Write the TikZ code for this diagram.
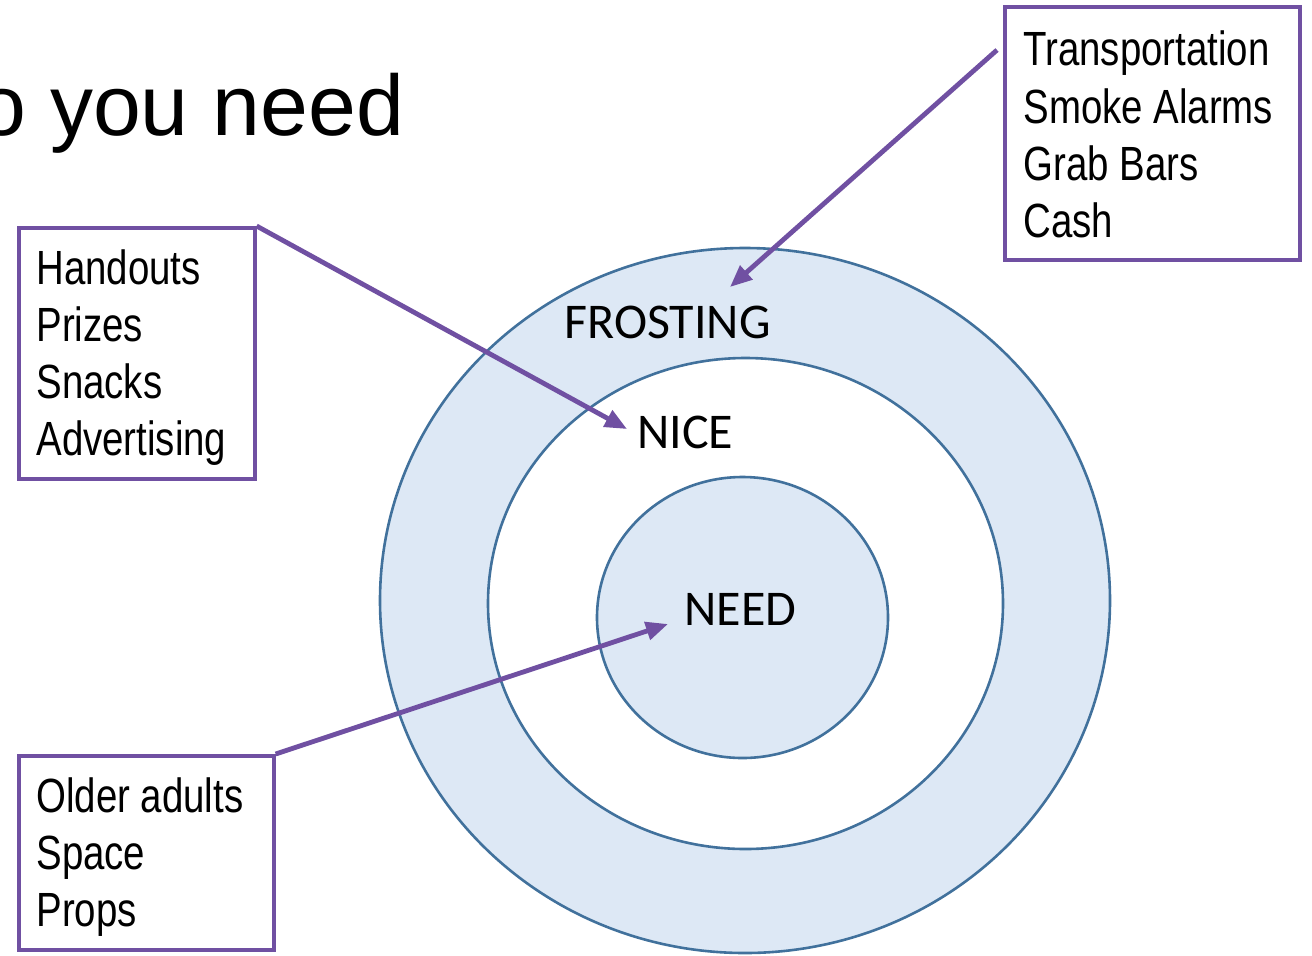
\documentclass[tikz,border=0pt]{standalone}
\usepackage{fontspec}
\setmainfont{Liberation Sans}
\newfontfamily\narrowfont[FakeStretch=0.8]{Liberation Sans}
\newfontfamily\calfont{Carlito}
\usetikzlibrary{arrows.meta,calc}
\definecolor{ringfill}{RGB}{221,232,245}
\definecolor{ringline}{RGB}{65,113,156}
\definecolor{arrowpurple}{RGB}{112,80,162}
\begin{document}
\begin{tikzpicture}[x=0.5pt,y=-0.5pt,
  ring/.style={draw=ringline,line width=1.3pt},
  listbox/.style={draw=arrowpurple,line width=1.8pt,rectangle,inner sep=0pt,anchor=north west,fill=white},
  listline/.style={anchor=base west,inner sep=0pt,font=\narrowfont\fontsize{24}{28}\selectfont},
  ringlabel/.style={anchor=base west,inner sep=0pt,font=\calfont\fontsize{25}{30}\selectfont},
  pointer/.style={draw=arrowpurple,line width=2.4pt,-{Triangle[length=11pt,width=9pt]}}]
\useasboundingbox (0,0) rectangle (1312,955);

% title (partly cut off at the left edge, as in the reference)
\node[anchor=base west,inner sep=0pt,font=\fontsize{43}{50}\selectfont] (title) at (-22,135) {o you need};

% rings
\draw[ring,fill=ringfill] (745,600.5) ellipse [x radius=182.5pt, y radius=176.25pt];
\draw[ring,fill=white] (745.5,603.5) ellipse [x radius=128.75pt, y radius=122.75pt];
\draw[ring,fill=ringfill] (742.5,617.5) ellipse [x radius=72.75pt, y radius=70.25pt];

\node[ringlabel] (frost) at (564,338) {FROSTING};
\node[ringlabel] (nice) at (637,448) {NICE};
\node[ringlabel] (need) at (684,625) {NEED};

% boxes
\node[listbox,minimum width=147.5pt,minimum height=126.5pt] (tr) at (1003,5) {};
\node[listbox,minimum width=118pt,minimum height=125.5pt] (hb) at (17,226) {};
\node[listbox,minimum width=127.5pt,minimum height=97pt] (ob) at (17,754) {};

\node[listline] (tr1) at (1023,65) {Transportation};
\node[listline] (tr2) at (1023,123) {Smoke Alarms};
\node[listline] (tr3) at (1023,180) {Grab Bars};
\node[listline] (tr4) at (1023,237) {Cash};

\node[listline] (hb1) at (36,284) {Handouts};
\node[listline] (hb2) at (36,341) {Prizes};
\node[listline] (hb3) at (36,398) {Snacks};
\node[listline] (hb4) at (36,455) {Advertising};

\node[listline] (ob1) at (36,812) {Older adults};
\node[listline] (ob2) at (36,869) {Space};
\node[listline] (ob3) at (36,926) {Props};

% arrow targets
\coordinate (tipfrost) at (730,287);
\coordinate (tipnice) at (627,429);
\coordinate (tipneed) at (668,624);

% arrows
\draw[pointer] ($(tr.north west)+(-6,45)$) -- (tipfrost);
\draw[pointer] (hb.north east) -- (tipnice);
\draw[pointer] (ob.north east) -- (tipneed);
\end{tikzpicture}
\end{document}
